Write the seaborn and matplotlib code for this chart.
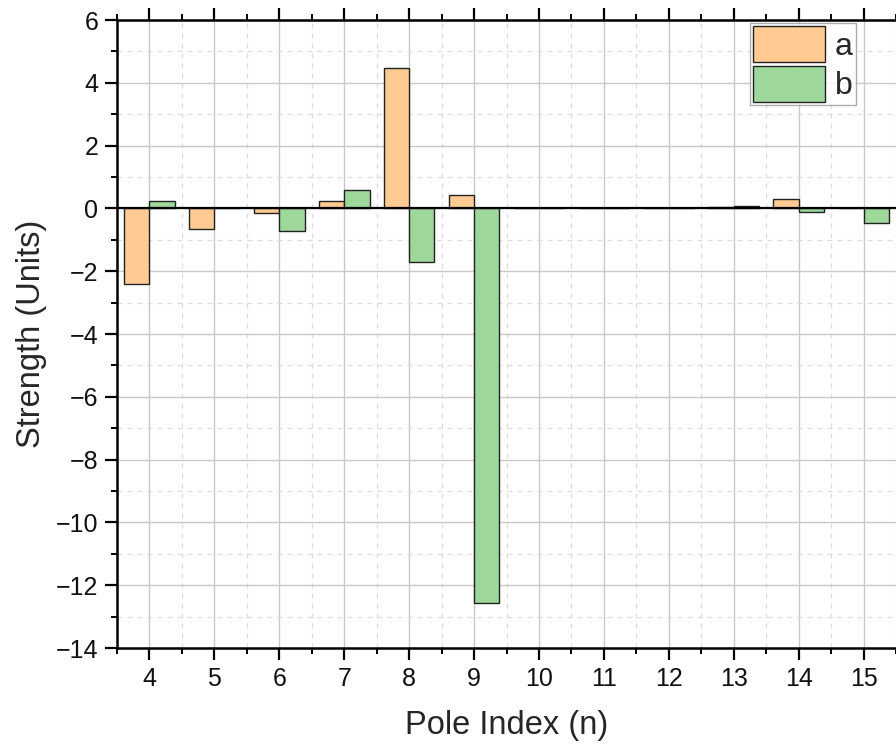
import numpy as np
import pandas as pd
import matplotlib
matplotlib.use("Agg")
import matplotlib.pyplot as plt
import seaborn as sns
from matplotlib.ticker import MultipleLocator

poles = [4, 5, 6, 7, 8, 9, 10, 11, 12, 13, 14, 15]
a_vals = [-2.42, -0.65, -0.15, 0.24, 4.48, 0.42, 0.0, 0.0, 0.0, 0.03, 0.29, 0.02]
b_vals = [0.22, 0.0, -0.72, 0.58, -1.70, -12.58, 0.0, 0.0, 0.0, 0.07, -0.12, -0.48]
series_names = ["a", "b"]
colors = ["#FFCB92", "#9DD79A"]

df = pd.DataFrame({
    "n": poles * 2,
    "value": a_vals + b_vals,
    "series": [series_names[0]] * len(poles) + [series_names[1]] * len(poles),
})

sns.set_style("white")
plt.rcParams["font.family"] = ["Liberation Sans", "DejaVu Sans"]

fig = plt.figure(figsize=(8.96, 7.47), dpi=100)
ax = fig.add_axes([117 / 896, 1 - 648 / 747, 1 - 117 / 896, (648 - 20) / 747])

sns.barplot(data=df, x="n", y="value", hue="series", palette=colors,
            native_scale=True, width=0.78, saturation=1, edgecolor="#222222",
            linewidth=1.0, ax=ax, zorder=3, errorbar=None)

ax.set_xlim(3.5, 15.5)
ax.set_ylim(-14, 6)
ax.xaxis.set_major_locator(MultipleLocator(1))
ax.xaxis.set_minor_locator(MultipleLocator(0.5))
ax.yaxis.set_major_locator(MultipleLocator(2))
ax.yaxis.set_minor_locator(MultipleLocator(1))
ax.set_xticks(poles)
ax.set_xticklabels([str(p) for p in poles])

ax.grid(which="major", color="#c8c8c8", linewidth=1.0, linestyle="-", zorder=0)
ax.grid(which="minor", color="#dddddd", linewidth=0.9, linestyle=(0, (4, 4)), zorder=0)
ax.set_axisbelow(True)

ax.axhline(0, color="black", linewidth=1.6, zorder=4)

for s in ["left", "bottom", "top"]:
    ax.spines[s].set_visible(True)
    ax.spines[s].set_color("black")
    ax.spines[s].set_linewidth(1.8)
ax.spines["right"].set_visible(False)

ax.tick_params(axis="both", which="major", direction="out", length=8.5, width=1.6,
               labelsize=18, color="black", labelcolor="#111111", pad=5)
ax.tick_params(axis="both", which="minor", direction="out", length=4.5, width=1.4, color="black")
ax.tick_params(axis="x", which="both", top=True, bottom=True, labeltop=False)
ax.tick_params(axis="y", which="both", left=True, right=False)
ax.set_yticklabels([f"{int(t)}".replace("-", "\u2212") for t in ax.get_yticks()])

ax.set_xlabel("Pole Index (n)", fontsize=23.5, labelpad=14)
ax.set_ylabel("Strength (Units)", fontsize=23.5, labelpad=6)

leg = ax.legend(loc="upper right", bbox_to_anchor=((859 - 117) / (896 - 117), 1.0),
                fontsize=23, frameon=True, fancybox=False, edgecolor="#999999",
                handlelength=2.25, handleheight=1.36, handletextpad=0.3,
                borderpad=0.1, labelspacing=0.1, borderaxespad=0.1)
leg.get_frame().set_linewidth(1.0)
leg.set_title(None)

fig.savefig("out.png", dpi=100)
